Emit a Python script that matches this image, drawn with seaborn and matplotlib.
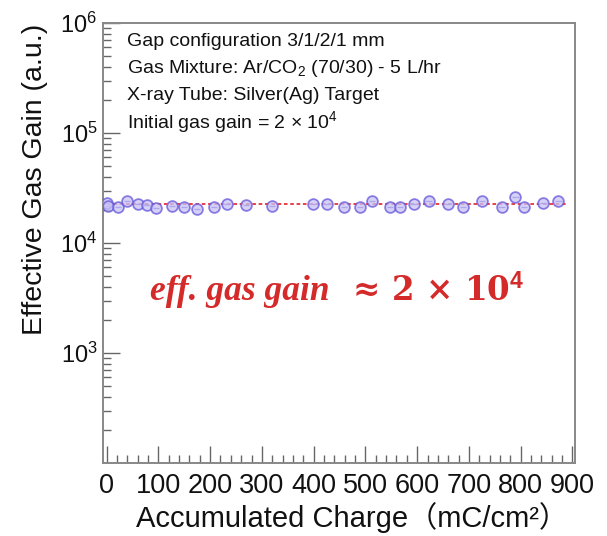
import numpy as np
import pandas as pd
import matplotlib
matplotlib.use("Agg")
import matplotlib.pyplot as plt
from matplotlib.ticker import LogLocator, MultipleLocator, NullFormatter, FixedLocator
import seaborn as sns

# Accumulated charge (mC/cm^2) and measured effective gas gain
charge = [0, 2, 22, 39, 61, 78, 96, 126, 150, 175, 208, 233, 269, 320, 399, 426,
          459, 490, 513, 547, 567, 593, 622, 660, 689, 726, 763, 790, 806, 844, 873]
gain = [23000, 21500, 21400, 24100, 22600, 22300, 21000, 21900, 21400, 20500, 21400,
        22600, 22000, 21900, 22600, 22600,
        21200, 21400, 23900, 21200, 21200, 22600, 24100, 22600, 21400, 23900, 21400,
        26400, 21200, 22900, 24100]

# Constant fit over the full range
fit_gain = 22600
fit_range = [0, 890]

x_ticks = [0, 100, 200, 300, 400, 500, 600, 700, 800, 900]
info_lines = [
    "Gap configuration 3/1/2/1 mm",
    "Gas Mixture: Ar/CO$_2$ (70/30) - 5 L/hr",
    "X-ray Tube: Silver(Ag) Target",
    r"Initial gas gain = 2 $\times$ 10$^4$",
]

sns.set_theme(style="white")
plt.rcParams["font.family"] = ["Liberation Sans", "Noto Sans CJK SC", "DejaVu Sans"]
plt.rcParams["mathtext.fontset"] = "custom"
plt.rcParams["mathtext.rm"] = "Liberation Sans"
plt.rcParams["mathtext.it"] = "Liberation Sans:italic"
plt.rcParams["mathtext.bf"] = "Liberation Sans:bold"

W, H = 607, 536
fig = plt.figure(figsize=(W / 100, H / 100), dpi=100)
ax = fig.add_axes([103 / W, 1 - 463 / H, (575 - 103) / W, (463 - 23) / H])

df = pd.DataFrame({"charge": charge, "gain": gain})

# fit line
ax.plot(fit_range, [fit_gain, fit_gain], color="#e8303a", lw=1.3,
        ls=(0, (2, 1.5)), zorder=2)

# small horizontal bars inside the markers
ax.errorbar(df["charge"], df["gain"], xerr=6, fmt="none", ecolor="#5a4fd0",
            elinewidth=1.0, capsize=0, zorder=3)
sns.scatterplot(data=df, x="charge", y="gain", ax=ax, marker="o", s=60,
                facecolor="#c9c4f4", edgecolor="#6457dc", linewidth=1.3,
                alpha=0.75, zorder=4, legend=False)

ax.set_yscale("log")
ax.set_ylim(1e2, 1e6)
ax.set_xlim(-7, 905)

ax.xaxis.set_major_locator(FixedLocator(x_ticks))
ax.xaxis.set_minor_locator(MultipleLocator(20))
ax.set_xticklabels([str(t) for t in x_ticks])
ax.yaxis.set_major_locator(FixedLocator([1e3, 1e4, 1e5, 1e6]))
ax.set_yticklabels(["10$^{3}$", "10$^{4}$", "10$^{5}$", "10$^{6}$"])
ax.yaxis.set_minor_locator(LogLocator(base=10, subs=np.arange(2, 10), numticks=20))
ax.yaxis.set_minor_formatter(NullFormatter())

ax.tick_params(axis="both", which="both", direction="in", colors="#666666",
               labelcolor="#111111", bottom=True, left=True, top=False, right=False)
ax.tick_params(axis="both", which="major", length=12, width=1.0)
ax.tick_params(axis="both", which="minor", length=6, width=1.0)
ax.tick_params(axis="x", pad=7, labelsize=19.5)
ax.tick_params(axis="y", pad=4, labelsize=17)

for sp in ax.spines.values():
    sp.set_color("#888888")
    sp.set_linewidth(1.4)

ax.set_xlabel("Accumulated Charge（mC/cm²）", fontsize=21, color="#111111")
ax.xaxis.set_label_coords(0.528, -0.088)
ax.set_ylabel("Effective Gas Gain (a.u.)", fontsize=20.5, color="#111111")
ax.yaxis.set_label_coords(-0.117, 0.645)

for i, line in enumerate(info_lines):
    ax.text(0.05, 0.958 - i * 0.061, line, transform=ax.transAxes, fontsize=14,
            color="#111111", va="center", ha="left")

t1 = ax.text(0.10, 0.37, "eff. gas gain", transform=ax.transAxes, fontsize=25.5,
             family="Liberation Serif", style="italic", weight="bold", color="#d42a2a",
             va="baseline", ha="left")
ax.annotate(r"  ≈ 2 × 10$^{\mathbf{4}}$", xy=(1, 0), xycoords=t1, fontsize=23.5,
            family="DejaVu Serif", weight="bold", color="#d42a2a",
            va="bottom", ha="left")

fig.savefig("out.png", dpi=100)
